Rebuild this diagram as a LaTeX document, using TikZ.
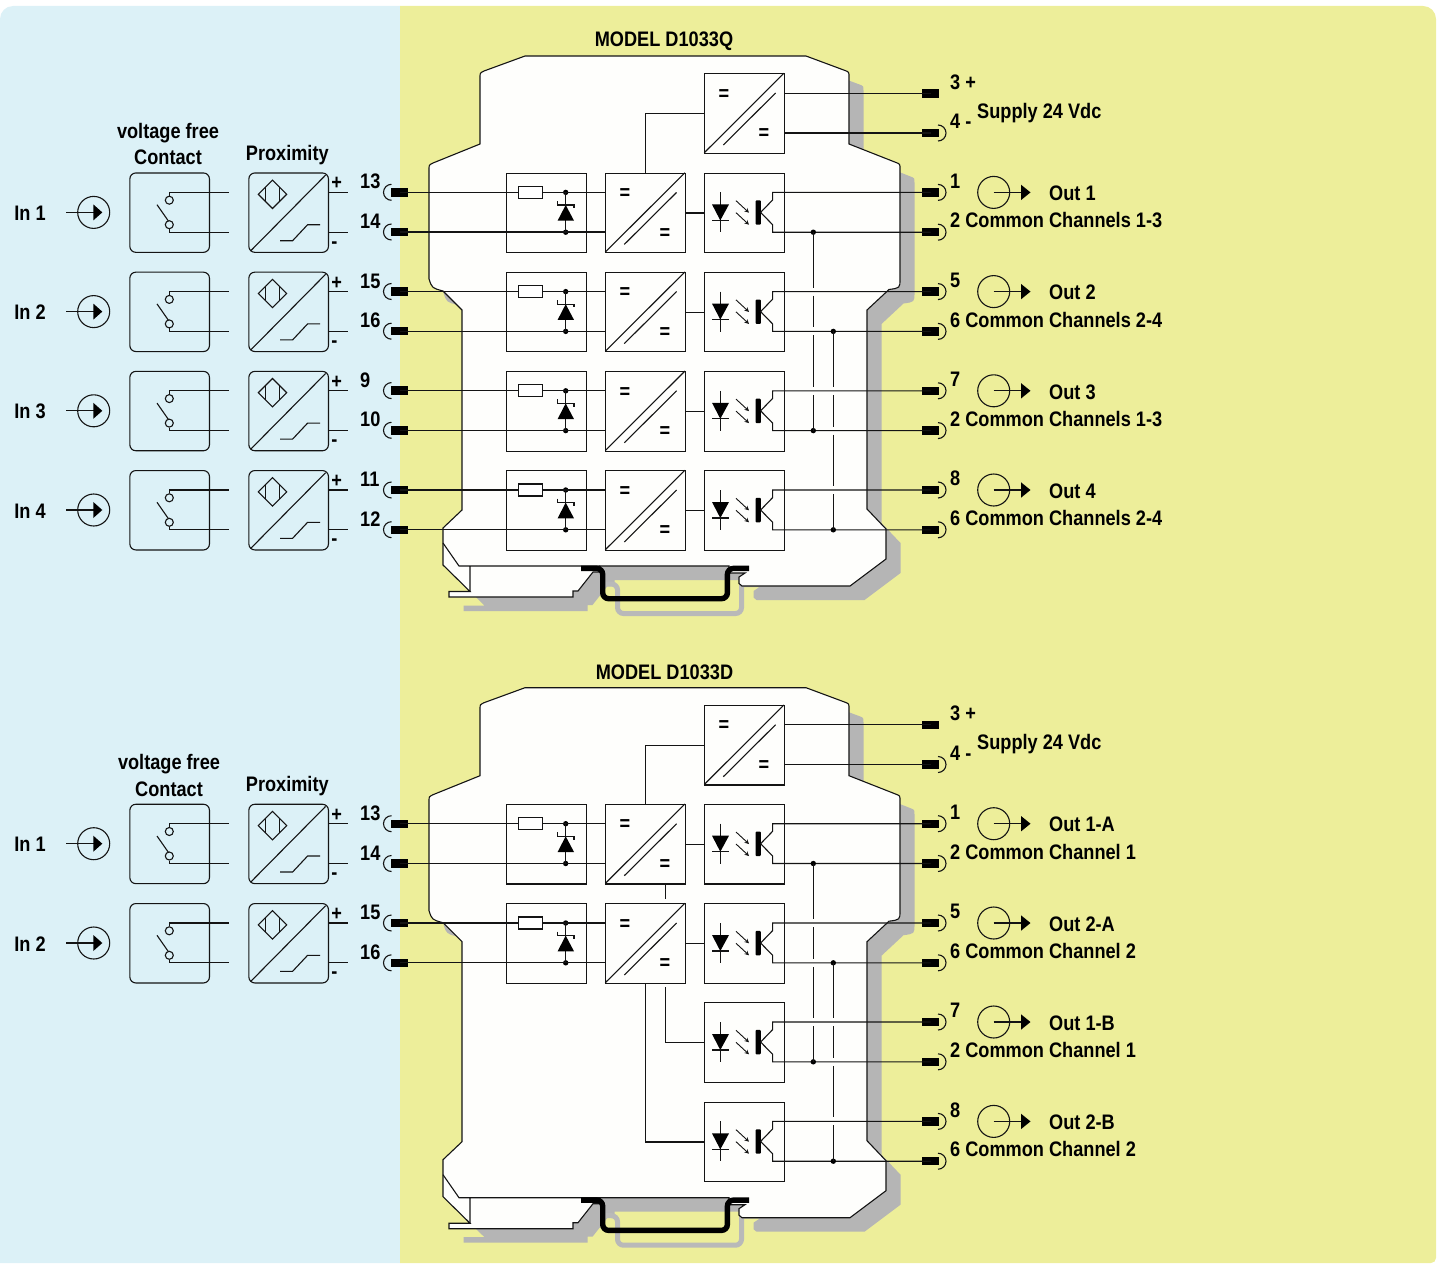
\documentclass[tikz,border=0pt]{standalone}
\usepackage{fontspec}
\setmainfont{Liberation Sans}[FakeStretch=0.865]
\usetikzlibrary{arrows.meta,calc}
\definecolor{bgblue}{RGB}{220,241,247}
\definecolor{bgyellow}{RGB}{237,238,154}
\definecolor{shadowgrey}{RGB}{181,181,181}
\definecolor{railgrey}{RGB}{185,185,185}
\definecolor{ink}{RGB}{20,20,20}
\definecolor{bodywhite}{RGB}{254,254,252}
\tikzset{
  wire/.style={line width=1.1pt,draw=ink},
  lab/.style={font=\fontsize{21}{21}\selectfont\bfseries,inner sep=0pt,text=black},
  labc/.style={lab,anchor=base},
  labw/.style={lab,anchor=base west},
  sym/.style={lab,anchor=center},
  cellbox/.style={wire,minimum width=79.6pt,minimum height=79.4pt,inner sep=0pt,anchor=north west},
  rbox/.style={cellbox,rounded corners=6pt},
  ring/.style={wire,circle,minimum size=32pt,inner sep=0pt},
  contactring/.style={wire,circle,minimum size=8pt,inner sep=0pt},
  termbox/.style={fill=black,minimum width=17pt,minimum height=8.4pt,inner sep=0pt},
  dotnode/.style={circle,fill=black,minimum size=5.4pt,inner sep=0pt},
  resistor/.style={wire,fill=white,minimum width=24.3pt,minimum height=12pt,inner sep=0pt},
}
\newcommand{\bodyoutline}{
  (525,56) -- (806,56) -- (845,70.5) .. controls (849,72) .. (849,77) -- (849,144)
  -- (896,162.5) .. controls (900,164) .. (900,169) -- (900,279) .. controls (900,288) .. (889,289.5)
  -- (867,310) -- (867,509) -- (886,529) -- (886,559) -- (850,586) -- (742,586)
  -- (739,583.5) -- (739,577) -- (745,573) -- (729,573) -- (729,566) -- (600,566) -- (600,572)
  -- (593,572) -- (578,591) -- (573,591) -- (573,597) -- (449,597) -- (449,591.5) -- (470,591.5)
  -- (443,565) -- (443,528) -- (462,510) -- (462,310) -- (443,291)
  .. controls (432,288) .. (429,279) -- (429,169) .. controls (429,165) .. (433,163) -- (480,144)
  -- (480,77) .. controls (480,73) .. (484,71) -- cycle}
\newcommand{\device}[1]{%
  \begin{scope}[shift={(0,#1)}]
    \fill[shadowgrey,shift={(14.5,14)}] \bodyoutline;
    \draw[railgrey,line width=5pt,rounded corners=6pt] (605,584) -- (617.5,584) -- (617.5,613.5) -- (741.5,613.5) -- (741.5,580);
    \fill[bodywhite] \bodyoutline;
    \draw[wire] \bodyoutline;
    \draw[wire] (443,543) -- (459,566) -- (600,566) (470,566) -- (470,591.5);
    \draw[black,line width=5.4pt,rounded corners=6pt] (581,568.4) -- (602.7,568.4) -- (602.7,598.7) -- (727.4,598.7) -- (727.4,568.4) -- (749,568.4);
  \end{scope}}
% input field row
\newcommand{\inrow}[3]{%
  \begin{scope}[shift={(0,#2)}]
    \node[labc] (inlab#1) at (30,47.8) {#3};
    \node[ring] (inring#1) at (93.7,39.7) {};
    \coordinate (instart#1) at (66,39.7);
    \draw[wire] (instart#1) -- (inring#1.center);
    \fill[black] (93.3,31.7) -- (102.3,39.7) -- (93.3,47.7) -- cycle;
    \node[rbox] (contact#1) at (129.3,-0.3) {};
    \node[contactring] (ca#1) at (169.3,27.5) {};
    \node[contactring] (cb#1) at (169.3,52) {};
    \coordinate (cae#1) at (229,19.7);
    \coordinate (cbe#1) at (229,59.6);
    \draw[wire] (ca#1.north) |- (cae#1);
    \draw[wire] (cb#1.south) |- (cbe#1);
    \draw[wire] (157,32) -- (168.3,48.2);
    \node[rbox] (prox#1) at (248.3,-0.3) {};
    \draw[wire] (250.6,78.2) -- (325.6,2.4);
    \draw[wire] (272.5,7.4) -- (286.7,21.6) -- (272.5,35.8) -- (258.3,21.6) -- cycle;
    \draw[wire] (265.7,14.6) -- (265.7,28.6);
    \draw[wire] (279.7,14.6) -- (279.7,28.6);
    \draw[wire] (280,68) -- (292.6,68) -- (307.6,52) -- (320,52);
    \coordinate (pae#1) at (348,19.7);
    \coordinate (pbe#1) at (348,59.6);
    \draw[wire] (prox#1.east |- pae#1) -- (pae#1);
    \draw[wire] (prox#1.east |- pbe#1) -- (pbe#1);
    \node[sym] (pplus#1) at (336.7,11) {+};
    \node[sym] (pminus#1) at (334.3,72) {-};
  \end{scope}}
\newcommand{\termL}[3]{%
  \begin{scope}[shift={(0,#2)}]
    \node[termbox] (T#1) at (399.5,0) {};
    \draw[wire] (391.5,-8) arc[start angle=90,end angle=270,radius=8pt];
    \node[labw] (L#1) at (360,-3.5) {#3};
  \end{scope}}
\newcommand{\termR}[3]{%
  \begin{scope}[shift={(0,#2)}]
    \node[termbox] (T#1) at (930.7,0) {};
    \draw[wire] (938,-8) arc[start angle=90,end angle=-90,radius=8pt];
    \node[labw] (L#1) at (950,-4.4) {#3};
  \end{scope}}
\newcommand{\termRplain}[3]{%
  \begin{scope}[shift={(0,#2)}]
    \node[termbox] (T#1) at (930.7,0) {};
    \node[labw] (L#1) at (950,-4.6) {#3};
  \end{scope}}
\newcommand{\convbox}[3]{% name, x, y
  \begin{scope}[shift={(#2,#3)}]
    \node[cellbox] (#1) at (0,0) {};
    \draw[wire] (0,79.4) -- (79.6,0);
    \draw[wire] (19,71.7) -- (71.3,19.7);
    \node[sym] (#1eqa) at (19.7,21.5) {=};
    \node[sym] (#1eqb) at (59.5,61) {=};
  \end{scope}}
\newcommand{\inputchan}[4]{% id, top, termA, termB
  \begin{scope}[shift={(0,#2)}]
    \node[cellbox] (B#1) at (506,0) {};
    \coordinate (R#1) at (530.2,19.7);
    \node[dotnode] (Da#1) at (565.7,19.7) {};
    \node[dotnode] (Db#1) at (565.7,59.5) {};
    \draw[wire] (Da#1.center) -- (Db#1.center);
    \fill[black] (565.7,32.3) -- (574,48) -- (557.6,48) -- cycle;
    \draw[wire] (557.6,28.3) -- (557.6,32.3) -- (574,32.3) -- (574,35.5);
  \end{scope}
  \convbox{C#1}{605.3}{#2}
  \draw[wire] (T#3.center) -- (C#1.west |- T#3.center);
  \draw[wire] (T#4.center) -- (C#1.west |- T#4.center);
  \node[resistor] (Rn#1) at (R#1) {};
}
\newcommand{\optobox}[4]{% id, top, termA, termB
  \begin{scope}[shift={(704.3,#2)}]
    \node[cellbox] (O#1) at (0,0) {};
    \draw[wire] (16,19.7) -- (16,59.7);
    \fill[black] (7.7,31.7) -- (24.7,31.7) -- (16,47.7) -- cycle;
    \draw[wire] (7.7,47.7) -- (24.7,47.7);
    \draw[line width=0.9pt,draw=ink,-{Stealth[length=4.5pt,width=4.5pt]}] (31.7,28) -- (44.7,40);
    \draw[line width=0.9pt,draw=ink,-{Stealth[length=4.5pt,width=4.5pt]}] (31.7,40) -- (44.7,52);
    \fill[black,rounded corners=1pt] (51.2,27.6) rectangle (56.6,52);
    \coordinate (ca#1) at (68.3,27.3);
    \coordinate (cm#1) at (56.3,39.7);
    \coordinate (cb#1) at (68.3,52);
  \end{scope}
  \draw[wire] (T#3.center) -| (ca#1) -- (cm#1) -- (cb#1) |- (T#4.center);
}
\newcommand{\outsym}[3]{% id, y, text
  \begin{scope}[shift={(0,#2)}]
    \node[ring] (outring#1) at (993.7,0) {};
    \coordinate (outtip#1) at (1022,0);
    \draw[wire] (outring#1.center) -- (outtip#1);
    \fill[black] (1021,-7.7) -- (1030.5,0) -- (1021,7.7) -- cycle;
    \node[labw] (outlab#1) at (1049,8.2) {#3};
  \end{scope}}
\newcommand{\gapline}[6]{% x, y0, y1, y2, y3, y4
  \draw[wire] (#1,#2) -- (#1,#3-4) (#1,#3+4) -- (#1,#4-4) (#1,#4+4) -- (#1,#5-4) (#1,#5+4) -- (#1,#6);
}
\begin{document}
\begin{tikzpicture}[x=1pt,y=-1pt]
\useasboundingbox (0,0) rectangle (1442,1263);
% backgrounds
\fill[bgblue] (400,1263) [sharp corners] -- (0,1263) [rounded corners=13pt] -- (0,6) [sharp corners] -- (400,6) -- cycle;
\fill[bgyellow] (400,6) [rounded corners=13pt] -- (1436,6) [rounded corners=5pt] -- (1436,1263) [sharp corners] -- (400,1263) -- cycle;
% ---------- MODEL D1033Q ----------
\device{0}
\node[labc] (titleQ) at (664,47) {MODEL D1033Q};
\node[labc] (vfQ) at (168,138.3) {voltage free};
\node[labc] (ctQ) at (168,164.6) {Contact};
\node[labc] (pxQ) at (287.3,160) {Proximity};
\inrow{qa}{172.7}{In 1}
\inrow{qb}{271.9}{In 2}
\inrow{qc}{371.1}{In 3}
\inrow{qd}{470.3}{In 4}
\termL{q13}{192.3}{13}
\termL{q14}{232}{14}
\termL{q15}{291.5}{15}
\termL{q16}{331.2}{16}
\termL{q9}{390.6}{9}
\termL{q10}{430.3}{10}
\termL{q11}{490}{11}
\termL{q12}{529.7}{12}
\termRplain{q3}{93.6}{3 +}
\termR{q4}{133}{4 -}
\termR{q1}{192.4}{1}
\termR{q2}{232.2}{2 Common Channels 1-3}
\termR{q5}{291.6}{5}
\termR{q6}{331.4}{6 Common Channels 2-4}
\termR{q7}{390.8}{7}
\termR{q2b}{430.6}{2 Common Channels 1-3}
\termR{q8}{490}{8}
\termR{q6b}{529.8}{6 Common Channels 2-4}
\node[labw] (supQ) at (977,118.6) {Supply 24 Vdc};
\convbox{Sq}{704.3}{73.3}
\draw[wire] (Sq.east |- Tq3.center) -- (Tq3.center);
\draw[wire] (Sq.east |- Tq4.center) -- (Tq4.center);
\inputchan{qa}{172.7}{q13}{q14}
\inputchan{qb}{271.9}{q15}{q16}
\inputchan{qc}{371.1}{q9}{q10}
\inputchan{qd}{470.3}{q11}{q12}
\draw[wire] (Cqa.north) |- (Sq.west);
\optobox{qa}{172.7}{q1}{q2}
\optobox{qb}{271.9}{q5}{q6}
\optobox{qc}{371.1}{q7}{q2b}
\optobox{qd}{470.3}{q8}{q6b}
\foreach \i in {qa,qb,qc,qd}{\draw[wire] (C\i.east) -- (O\i.west);}
\node[dotnode] (qA1) at (813.3,232.2) {};
\node[dotnode] (qA2) at (813.3,430.6) {};
\node[dotnode] (qB1) at (833.3,331.4) {};
\node[dotnode] (qB2) at (833.3,529.8) {};
\gapline{813.3}{232.2}{291.6}{331.4}{390.8}{430.6}
\gapline{833.3}{331.4}{390.8}{430.6}{490}{529.8}
\outsym{qa}{192.4}{Out 1}
\outsym{qb}{291.6}{Out 2}
\outsym{qc}{390.8}{Out 3}
\outsym{qd}{490}{Out 4}
% ---------- MODEL D1033D ----------
\device{631.7}
\node[labc] (titleD) at (664.5,679.5) {MODEL D1033D};
\node[labc] (vfD) at (169,769.5) {voltage free};
\node[labc] (ctD) at (169,796) {Contact};
\node[labc] (pxD) at (287.3,791.5) {Proximity};
\inrow{da}{804}{In 1}
\inrow{db}{903.3}{In 2}
\termL{d13}{823.7}{13}
\termL{d14}{863.5}{14}
\termL{d15}{923}{15}
\termL{d16}{962.8}{16}
\termRplain{d3}{724.7}{3 +}
\termR{d4}{764.5}{4 -}
\termR{d1}{823.7}{1}
\termR{d2}{863.5}{2 Common Channel 1}
\termR{d5}{923}{5}
\termR{d6}{962.8}{6 Common Channel 2}
\termR{d7}{1022}{7}
\termR{d2b}{1061.8}{2 Common Channel 1}
\termR{d8}{1121.4}{8}
\termR{d6b}{1161.2}{6 Common Channel 2}
\node[labw] (supD) at (977,749.8) {Supply 24 Vdc};
\convbox{Sd}{704.3}{705}
\draw[wire] (Sd.east |- Td3.center) -- (Td3.center);
\draw[wire] (Sd.east |- Td4.center) -- (Td4.center);
\inputchan{da}{804}{d13}{d14}
\inputchan{db}{903.3}{d15}{d16}
\draw[wire] (Cda.north) |- (Sd.west);
\optobox{da}{804}{d1}{d2}
\optobox{db}{903.3}{d5}{d6}
\optobox{dc}{1002.3}{d7}{d2b}
\optobox{dd}{1101.7}{d8}{d6b}
\draw[wire] (Cda.east) -- (Oda.west);
\draw[wire] (Cdb.east) -- (Odb.west);
\draw[wire] ([xshift=19.7pt]Cda.south) -- ([xshift=19.7pt,yshift=4pt]Cdb.north);
\draw[wire] ([xshift=19.7pt,yshift=-3.5pt]Cdb.south) |- (Odc.west);
\draw[wire] (Cdb.south) |- (Odd.west);
\node[dotnode] (dA1) at (813.3,863.5) {};
\node[dotnode] (dA2) at (813.3,1061.8) {};
\node[dotnode] (dB1) at (833.3,962.8) {};
\node[dotnode] (dB2) at (833.3,1161.2) {};
\gapline{813.3}{863.5}{923}{962.8}{1022}{1061.8}
\gapline{833.3}{962.8}{1022}{1061.8}{1121.4}{1161.2}
\outsym{da}{823.7}{Out 1-A}
\outsym{db}{923}{Out 2-A}
\outsym{dc}{1022}{Out 1-B}
\outsym{dd}{1121.4}{Out 2-B}
\end{tikzpicture}
\end{document}
